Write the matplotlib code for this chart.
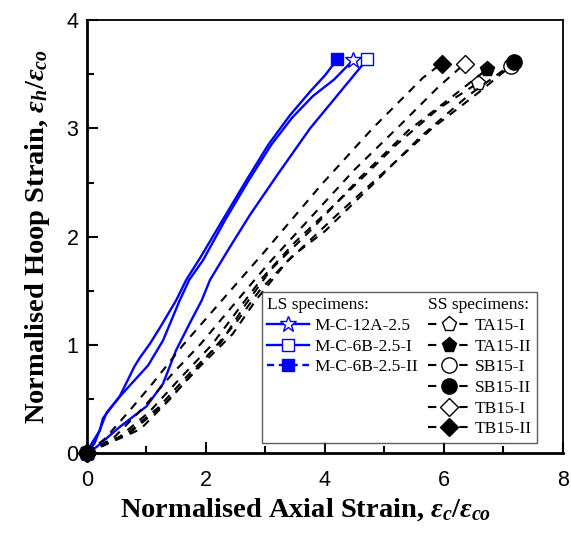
import matplotlib
matplotlib.use("Agg")
import matplotlib.pyplot as plt
from matplotlib.lines import Line2D

# LS specimens (blue, solid)
ls_names = ["M-C-12A-2.5", "M-C-6B-2.5-I", "M-C-6B-2.5-II"]
ls_x = [
    [0, 0.13, 0.33, 0.55, 1.03, 1.28, 1.56, 1.72, 1.95, 2.32, 2.72, 3.1, 3.45, 3.8, 4.15, 4.47],
    [0, 0.15, 0.55, 1.0, 1.28, 1.5, 1.73, 1.93, 2.07, 2.4, 2.74, 3.2, 3.75, 4.2, 4.5, 4.71],
    [0, 0.05, 0.22, 0.27, 0.42, 0.55, 0.8, 0.89, 1.06, 1.23, 1.5, 1.67, 1.9, 2.3, 2.68, 3.05, 3.41, 3.75, 4.0, 4.21],
]
ls_y = [
    [0, 0.09, 0.37, 0.52, 0.81, 1.04, 1.41, 1.6, 1.78, 2.15, 2.52, 2.85, 3.1, 3.3, 3.45, 3.63],
    [0, 0.05, 0.24, 0.43, 0.64, 0.95, 1.2, 1.41, 1.6, 1.9, 2.2, 2.57, 3.0, 3.3, 3.5, 3.64],
    [0, 0.06, 0.21, 0.32, 0.43, 0.52, 0.8, 0.88, 1.01, 1.16, 1.41, 1.6, 1.8, 2.17, 2.52, 2.85, 3.12, 3.34, 3.49, 3.64],
]
ls_markers = ["*", "s", "s"]
ls_filled = [False, False, True]

# SS specimens (black, dashed)
ss_names = ["TA15-I", "TA15-II", "SB15-I", "SB15-II", "TB15-I", "TB15-II"]
ss_x = [
    [0, 0.55, 1.05, 1.55, 2.1, 2.55, 2.95, 3.5, 4.4, 5.2, 5.9, 6.57],
    [0, 0.65, 1.2, 1.75, 2.25, 2.65, 3.1, 3.8, 4.6, 5.4, 6.2, 6.73],
    [0, 0.75, 1.3, 1.9, 2.45, 2.85, 3.35, 4.2, 5.0, 5.8, 6.6, 7.13],
    [0, 0.9, 1.4, 2.0, 2.5, 2.9, 3.45, 4.0, 4.8, 5.6, 6.4, 7.18],
    [0, 0.45, 0.95, 1.45, 1.9, 2.45, 3.05, 3.8, 4.5, 5.3, 5.9, 6.35],
    [0, 0.3, 0.7, 1.1, 1.62, 2.3, 3.0, 3.94, 4.8, 5.65, 5.96],
]
ss_y = [
    [0, 0.15, 0.38, 0.68, 1.0, 1.33, 1.62, 1.95, 2.42, 2.85, 3.18, 3.42],
    [0, 0.17, 0.42, 0.75, 1.02, 1.36, 1.7, 2.08, 2.55, 2.98, 3.32, 3.55],
    [0, 0.2, 0.45, 0.8, 1.1, 1.42, 1.76, 2.2, 2.6, 3.0, 3.34, 3.58],
    [0, 0.22, 0.5, 0.88, 1.2, 1.5, 1.82, 2.05, 2.48, 2.92, 3.3, 3.61],
    [0, 0.14, 0.42, 0.74, 1.0, 1.36, 1.75, 2.2, 2.62, 3.05, 3.38, 3.60],
    [0, 0.13, 0.38, 0.64, 1.0, 1.43, 1.87, 2.48, 3.0, 3.47, 3.60],
]
ss_markers = ["p", "p", "o", "o", "D", "D"]
ss_filled = [False, True, False, True, False, True]

plt.rcParams["mathtext.fontset"] = "custom"
plt.rcParams["mathtext.rm"] = "Liberation Serif:bold"
plt.rcParams["mathtext.it"] = "Liberation Serif:italic:bold"
plt.rcParams["mathtext.bf"] = "Liberation Serif:bold"

fig = plt.figure(figsize=(5.71, 5.33), dpi=100)
ax = fig.add_axes([0.152, 0.150, 0.834, 0.812])

BLUE = "#0000ff"
blue_handles = []
for i in range(len(ls_names)):
    face = BLUE if ls_filled[i] else "white"
    ms = 12 if ls_markers[i] == "*" else 9
    ax.plot(ls_x[i], ls_y[i], color=BLUE, lw=1.7, marker=ls_markers[i], ms=ms,
            mfc=face, mec=BLUE, mew=1.0, markevery=[0, -1], clip_on=False, zorder=3)
    style = (0, (3, 2)) if i == 2 else "-"
    blue_handles.append(Line2D([], [], color=BLUE, lw=1.7, ls=style, marker=ls_markers[i],
                               ms=ms, mfc=face, mec=BLUE, mew=1.0))

black_handles = []
for i in range(len(ss_names)):
    face = "black" if ss_filled[i] else "white"
    ms = 9 if ss_markers[i] == "D" else 11
    ax.plot(ss_x[i], ss_y[i], color="black", lw=1.5, ls=(0, (4, 3.5)), marker=ss_markers[i],
            ms=ms, mfc=face, mec="black", mew=1.0, markevery=[0, -1], clip_on=False, zorder=4)
    black_handles.append(Line2D([], [], color="black", lw=1.5, ls=(0, (4, 3.5)),
                                marker=ss_markers[i], ms=ms, mfc=face, mec="black", mew=1.0))

ax.set_xlim(0, 8)
ax.set_ylim(0, 4)
ax.set_xticks([0, 2, 4, 6, 8])
ax.set_xticks([1, 3, 5, 7], minor=True)
ax.set_yticks([0, 1, 2, 3, 4])
ax.set_yticks([0.5, 1.5, 2.5, 3.5], minor=True)
ax.tick_params(which="both", direction="in", width=1.5, top=False, right=False)
ax.tick_params(which="major", length=8, labelsize=15.5)
ax.tick_params(which="minor", length=5)
ax.tick_params(axis="x", which="major", pad=12)
ax.tick_params(axis="y", which="major", pad=6)
for lab in ax.get_xticklabels() + ax.get_yticklabels():
    lab.set_fontfamily("Liberation Sans")
for side in ["left", "bottom"]:
    ax.spines[side].set_linewidth(2.0)
for side in ["top", "right"]:
    ax.spines[side].set_linewidth(1.3)

ax.set_xlabel(r"Normalised Axial Strain, $\varepsilon_c/\varepsilon_{co}$",
              fontfamily="Liberation Serif", fontweight="bold", fontsize=20.5)
ax.xaxis.set_label_coords(0.46, -0.1)
ax.set_ylabel(r"Normalised Hoop Strain, $\varepsilon_h/\varepsilon_{co}$",
              fontfamily="Liberation Serif", fontweight="bold", fontsize=20.5, labelpad=10)

# legend: header rows get a blank label, header text placed over them afterwards
blank = Line2D([], [], color="none")
handles = [blank] + blue_handles + [blank] * 3 + [blank] + black_handles
labels = [" "] + ls_names + [" "] * 3 + [" "] + ss_names
leg = ax.legend(handles, labels, ncol=2, loc="upper left", bbox_to_anchor=(0.368, 0.372),
                borderaxespad=0, numpoints=1, handlelength=2.4, handletextpad=0.3,
                columnspacing=0.6, labelspacing=0.26, borderpad=0.3, fancybox=False,
                prop={"family": "Liberation Serif", "size": 12.5})
leg.get_frame().set_edgecolor("#333333")
leg.get_frame().set_linewidth(1.0)

fig.canvas.draw()
r = fig.canvas.get_renderer()
texts = leg.get_texts()
shift = (2.4 + 0.3) * 12.5 * fig.dpi / 72
W, H = fig.canvas.get_width_height()
for idx, head in [(0, "LS specimens:"), (7, "SS specimens:")]:
    bb = texts[idx].get_window_extent(r)
    col_bb = texts[idx + 1].get_window_extent(r)
    fig.text((col_bb.x0 - shift) / W, (bb.y0 + bb.y1) / 2 / H, head, ha="left", va="center",
             fontfamily="Liberation Serif", fontsize=12.5, zorder=10)

fig.savefig("out.png", dpi=100)
